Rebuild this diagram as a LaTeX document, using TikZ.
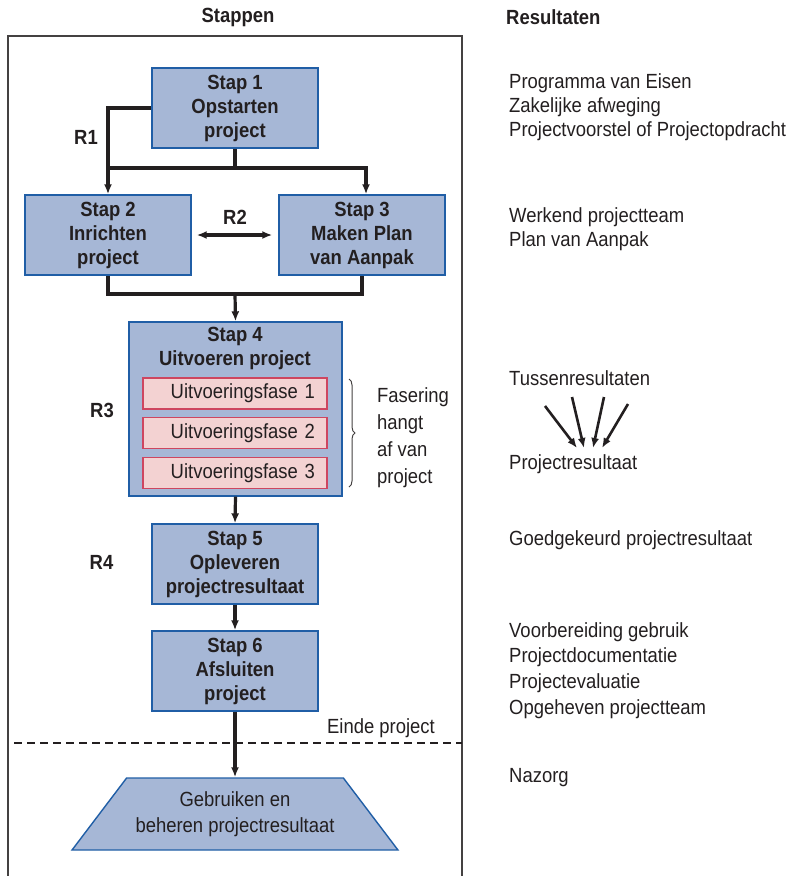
\documentclass[tikz,border=0pt]{standalone}
\usepackage{fontspec}
\setmainfont{Liberation Sans}[FakeStretch=0.9]
\usetikzlibrary{arrows.meta,shapes.geometric,decorations.pathreplacing}

\definecolor{stepfill}{RGB}{166,183,214}
\definecolor{stepline}{RGB}{32,94,166}
\definecolor{phasefill}{RGB}{243,210,210}
\definecolor{phaseline}{RGB}{206,70,96}
\definecolor{ink}{RGB}{35,31,32}

\tikzset{
  txt/.style={font=\fontsize{20.5}{24}\selectfont, text=ink, inner sep=0pt},
  bold/.style={txt, font=\fontsize{20.5}{24}\selectfont\bfseries},
  stepbox/.style={draw=stepline, line width=1.4pt, fill=stepfill,
    minimum width=166pt, minimum height=80pt, align=center, inner sep=0pt,
    font=\fontsize{20.5}{24}\selectfont\bfseries, text=ink},
  phasebox/.style={draw=phaseline, line width=1.2pt, fill=phasefill,
    minimum width=184pt, minimum height=31pt, inner sep=0pt,
    text width=160pt, align=right, font=\fontsize{20.5}{24}\selectfont, text=ink},
  conn/.style={draw=ink, line width=3.2pt},
  arr/.style={conn, -{Latex[length=10pt,width=8pt]}},
  dblarr/.style={conn, {Latex[length=10pt,width=8pt]}-{Latex[length=10pt,width=8pt]}},
}

\begin{document}
\begin{tikzpicture}[x=1pt,y=-1pt]
  \useasboundingbox (0,0) rectangle (792,876);

  % column headings
  \node[bold] (hsteps) at (238,17) {Stappen};
  \node[bold, anchor=west] (hres) at (506,17) {Resultaten};

  % frame around the steps
  \draw[line width=1.6pt, draw=ink!85] (8,876) -- (8,36) -- (462,36) -- (462,876);

  % steps
  \node[stepbox] (s1) at (235,108) {Stap 1\\Opstarten\\project};
  \node[stepbox] (s2) at (108,235) {Stap 2\\Inrichten\\project};
  \node[stepbox] (s3) at (362,235) {Stap 3\\Maken Plan\\van Aanpak};
  \node[stepbox, minimum width=213pt, minimum height=174pt] (s4) at (235.5,409) {};
  \node[bold, align=center] (s4t) at (235,348.5) {Stap 4\\Uitvoeren project};
  \node[phasebox] (f1) at (235,393.5) {Uitvoeringsfase 1};
  \node[phasebox] (f2) at (235,433) {Uitvoeringsfase 2};
  \node[phasebox] (f3) at (235,473) {Uitvoeringsfase 3};
  \node[stepbox] (s5) at (235,564) {Stap 5\\Opleveren\\projectresultaat};
  \node[stepbox] (s6) at (235,671) {Stap 6\\Afsluiten\\project};
  \node[trapezium, trapezium stretches=true, trapezium angle=42,
        minimum width=326pt, minimum height=72pt, draw=stepline, line width=1.4pt,
        fill=stepfill, align=center, inner sep=0pt,
        font=\fontsize{20.5}{26}\selectfont, text=ink] (use) at (235,814)
        {Gebruiken en\\beheren projectresultaat};

  % junction points
  \coordinate (j1) at (235,168);
  \coordinate (j2) at (235,294);

  % connectors
  \draw[arr] (s1.west) -| (s2.north);
  \draw[conn] (s1.south) -- (j1);
  \draw[arr] (s2.north |- j1) -| ([xshift=4pt]s3.north);
  \draw[dblarr, shorten <=5pt, shorten >=6pt] (s2.east) -- (s3.west);
  \draw[conn] (s2.south) |- (j2) -| (s3.south);
  \draw[arr] (j2) -- (s4.north);
  \draw[arr] (s4.south) -- (s5.north);
  \draw[arr] (s5.south) -- (s6.north);
  \draw[arr] (s6.south) -- (use.top side);

  % labels on the left
  \node[bold] (r1) at (86,137) {R1};
  \node[bold] (r2) at (235,217) {R2};
  \node[bold] (r3) at (102,410) {R3};
  \node[bold] (r4) at (101.5,562) {R4};

  % brace with note
  \draw[draw=ink!85, line width=1pt, decorate, decoration={brace, amplitude=6pt}]
    (349,379) -- (349,487);
  \node[txt, anchor=west, align=left, font=\fontsize{20.5}{27}\selectfont] (fas) at (377,438)
    {Fasering\\hangt\\af van\\project};

  % end of project line
  \draw[draw=ink, line width=1.2pt, dash pattern=on 8pt off 5pt] (14,743) -- (462,743);
  \node[txt] (einde) at (381,728) {Einde project};

  % results column
  \node[txt, anchor=west, align=left] (res1) at (509,107)
    {Programma van Eisen\\Zakelijke afweging\\Projectvoorstel of Projectopdracht};
  \node[txt, anchor=west, align=left] (res2) at (509,229)
    {Werkend projectteam\\Plan van Aanpak};
  \node[txt, anchor=west] (tus) at (509,378) {Tussenresultaten};
  \node[txt, anchor=west] (pres) at (509,464) {Projectresultaat};
  \node[txt, anchor=west] (res3) at (509,540) {Goedgekeurd projectresultaat};
  \node[txt, anchor=west, align=left, font=\fontsize{20.5}{25.7}\selectfont] (res4) at (509,670.5)
    {Voorbereiding gebruik\\Projectdocumentatie\\Projectevaluatie\\Opgeheven projectteam};
  \node[txt, anchor=west] (res5) at (509,778) {Nazorg};

  % intermediate results converging
  \coordinate (a1) at (545,406); \coordinate (b1) at (577,448);
  \coordinate (a2) at (572,397); \coordinate (b2) at (584,448);
  \coordinate (a3) at (604,397); \coordinate (b3) at (593,448);
  \coordinate (a4) at (628,404); \coordinate (b4) at (602,448);
  \draw[arr, line width=2.6pt] (a1) -- (b1);
  \draw[arr, line width=2.6pt] (a2) -- (b2);
  \draw[arr, line width=2.6pt] (a3) -- (b3);
  \draw[arr, line width=2.6pt] (a4) -- (b4);
\end{tikzpicture}
\end{document}
